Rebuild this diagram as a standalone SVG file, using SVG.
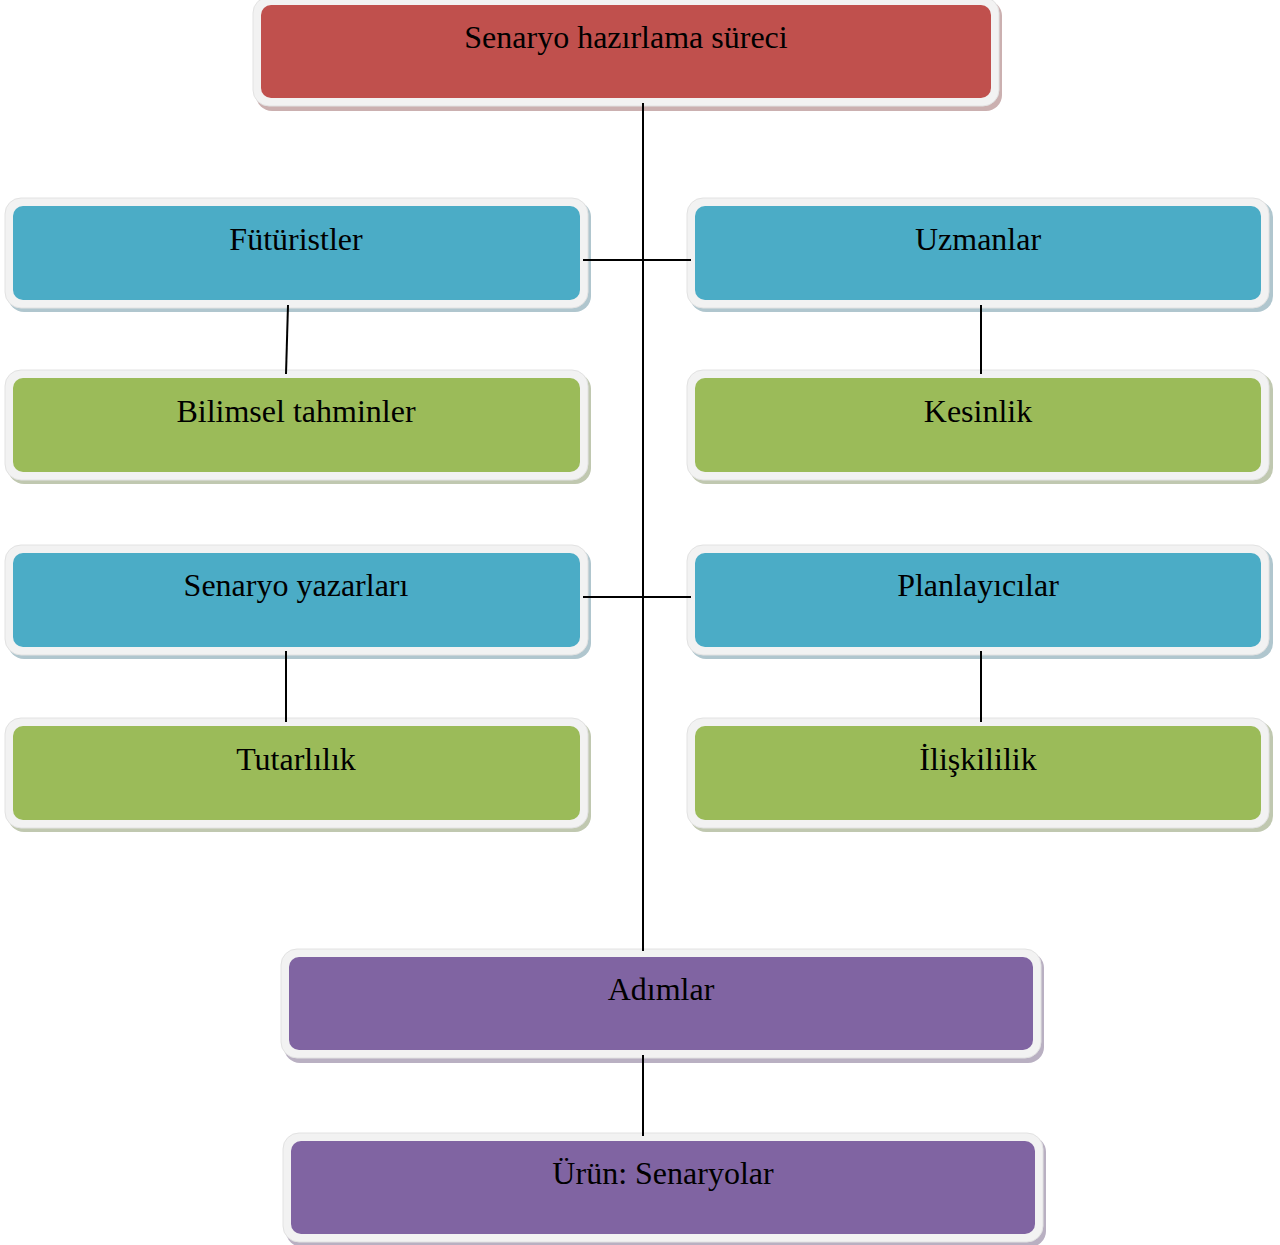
<svg xmlns="http://www.w3.org/2000/svg" width="1280" height="1245" viewBox="0 0 1280 1245">
<style>
.frame{fill:#f2f2f2;stroke:#e2e2e2;stroke-width:1}
.sh{opacity:0.55}
.red{fill:#c0504d}.blue{fill:#4bacc6}.green{fill:#9bbb59}.purple{fill:#8064a2}
.shred{fill:#a07070}.shblue{fill:#6f98a6}.shgreen{fill:#8c9a70}.shpurple{fill:#807090}
text{font-family:"Liberation Serif","Times New Roman",serif;font-size:32px;fill:#000;text-anchor:middle}
.conn line{stroke:#000;stroke-width:2}
</style>
<rect width="1280" height="1245" fill="#fff"/>
<g id="n-top">
<rect class="sh shred" x="256" y="0" width="746" height="111" rx="16"/>
<rect class="frame" x="253" y="-3" width="746" height="109" rx="16"/>
<rect class="red" x="261" y="5" width="730" height="93" rx="10"/>
<text x="626" y="48">Senaryo hazırlama süreci</text>
</g>
<g id="n-futuristler">
<rect class="sh shblue" x="8" y="201" width="583" height="111" rx="16"/>
<rect class="frame" x="5" y="198" width="583" height="110" rx="16"/>
<rect class="blue" x="13" y="206" width="567" height="94" rx="10"/>
<text x="296" y="250">Fütüristler</text>
</g>
<g id="n-uzmanlar">
<rect class="sh shblue" x="690" y="201" width="583" height="111" rx="16"/>
<rect class="frame" x="687" y="198" width="582" height="110" rx="16"/>
<rect class="blue" x="695" y="206" width="566" height="94" rx="10"/>
<text x="978" y="250">Uzmanlar</text>
</g>
<g id="n-bilimsel">
<rect class="sh shgreen" x="8" y="373" width="583" height="111" rx="16"/>
<rect class="frame" x="5" y="370" width="583" height="110" rx="16"/>
<rect class="green" x="13" y="378" width="567" height="94" rx="10"/>
<text x="296" y="422">Bilimsel tahminler</text>
</g>
<g id="n-kesinlik">
<rect class="sh shgreen" x="690" y="373" width="583" height="111" rx="16"/>
<rect class="frame" x="687" y="370" width="582" height="110" rx="16"/>
<rect class="green" x="695" y="378" width="566" height="94" rx="10"/>
<text x="978" y="422">Kesinlik</text>
</g>
<g id="n-yazarlar">
<rect class="sh shblue" x="8" y="548" width="583" height="111" rx="16"/>
<rect class="frame" x="5" y="545" width="583" height="110" rx="16"/>
<rect class="blue" x="13" y="553" width="567" height="94" rx="10"/>
<text x="296" y="596">Senaryo yazarları</text>
</g>
<g id="n-planlayicilar">
<rect class="sh shblue" x="690" y="548" width="583" height="111" rx="16"/>
<rect class="frame" x="687" y="545" width="582" height="110" rx="16"/>
<rect class="blue" x="695" y="553" width="566" height="94" rx="10"/>
<text x="978" y="596">Planlayıcılar</text>
</g>
<g id="n-tutarlilik">
<rect class="sh shgreen" x="8" y="721" width="583" height="111" rx="16"/>
<rect class="frame" x="5" y="718" width="583" height="110" rx="16"/>
<rect class="green" x="13" y="726" width="567" height="94" rx="10"/>
<text x="296" y="770">Tutarlılık</text>
</g>
<g id="n-iliskililik">
<rect class="sh shgreen" x="690" y="721" width="583" height="111" rx="16"/>
<rect class="frame" x="687" y="718" width="582" height="110" rx="16"/>
<rect class="green" x="695" y="726" width="566" height="94" rx="10"/>
<text x="978" y="770">İlişkililik</text>
</g>
<g id="n-adimlar">
<rect class="sh shpurple" x="284" y="952" width="760" height="111" rx="16"/>
<rect class="frame" x="281" y="949" width="760" height="109" rx="16"/>
<rect class="purple" x="289" y="957" width="744" height="93" rx="10"/>
<text x="661" y="1000">Adımlar</text>
</g>
<g id="n-urun">
<rect class="sh shpurple" x="286" y="1136" width="760" height="111" rx="16"/>
<rect class="frame" x="283" y="1133" width="760" height="109" rx="16"/>
<rect class="purple" x="291" y="1141" width="744" height="93" rx="10"/>
<text x="663" y="1184">Ürün: Senaryolar</text>
</g>
<g class="conn">
<line x1="643" y1="103" x2="643" y2="951"/>
<line x1="583" y1="260" x2="691" y2="260"/>
<line x1="583" y1="597" x2="691" y2="597"/>
<line x1="288" y1="305" x2="286" y2="374"/>
<line x1="981" y1="305" x2="981" y2="374"/>
<line x1="286" y1="651" x2="286" y2="722"/>
<line x1="981" y1="651" x2="981" y2="722"/>
<line x1="643" y1="1055" x2="643" y2="1136"/>
</g>
</svg>
